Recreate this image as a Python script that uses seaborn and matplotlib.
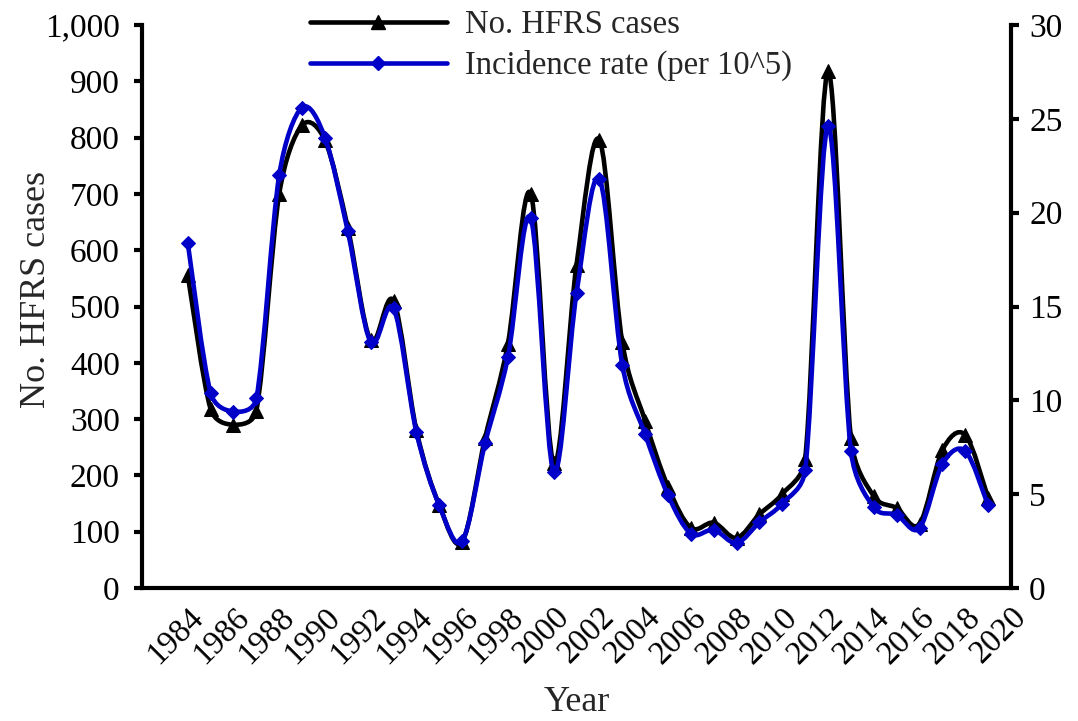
import numpy as np
import pandas as pd
import matplotlib
matplotlib.use("Agg")
import matplotlib.pyplot as plt
from matplotlib.path import Path
from matplotlib.patches import PathPatch
from matplotlib.lines import Line2D
from matplotlib.ticker import FuncFormatter
import matplotlib.transforms as mtransforms
import seaborn as sns

years = list(range(1984, 2020))
cases = [556, 318, 290, 315, 700, 822, 795, 640, 440, 510, 280, 147, 82, 266,
         434, 700, 222, 574, 796, 437, 297, 180, 107, 116, 89, 131, 167, 230,
         918, 266, 163, 142, 114, 245, 272, 160]
rate = [18.4, 10.4, 9.4, 10.1, 22.0, 25.6, 24.0, 19.0, 13.1, 14.9, 8.3, 4.4,
        2.5, 7.7, 12.3, 19.7, 6.2, 15.7, 21.8, 11.9, 8.2, 4.95, 2.9, 3.1, 2.4,
        3.5, 4.5, 6.3, 24.6, 7.3, 4.3, 3.9, 3.2, 6.6, 7.3, 4.4]
tick_years = list(range(1982, 2021, 2))
tick_labels = [""] + [str(y) for y in range(1984, 2021, 2)]
left_ticks = list(range(0, 1001, 100))
right_ticks = list(range(0, 31, 5))
label_cases = "No. HFRS cases"
label_rate = "Incidence rate (per 10^5)"

df = pd.DataFrame({"Year": years, "Cases": cases, "Rate": rate})

BLACK = "#000000"
BLUE = "#0000C8"
FONT = ["Liberation Serif", "DejaVu Serif"]

sns.set_theme(style="white")
plt.rcParams["font.family"] = FONT


def smooth_path(a, xs, ys):
    """Excel-like smoothed line: cubic Bezier, control arms = chord/6,
    capped at half the segment length (measured on screen)."""
    xs = np.asarray(xs, float)
    ys = np.asarray(ys, float)
    fig.canvas.draw()
    sx = a.transData.transform([(1, 0)])[0][0] - a.transData.transform([(0, 0)])[0][0]
    sy = a.transData.transform([(0, 1)])[0][1] - a.transData.transform([(0, 0)])[0][1]
    pts = np.column_stack([xs, ys])
    scale = np.array([sx, sy])
    n = len(pts)

    def plen(v):
        return float(np.hypot(*(v * scale)))

    verts = [tuple(pts[0])]
    codes = [Path.MOVETO]
    for i in range(n - 1):
        p0 = pts[max(i - 1, 0)]
        p1 = pts[i]
        p2 = pts[i + 1]
        p3 = pts[min(i + 2, n - 1)]
        half = plen(p2 - p1) / 2.0
        t1 = (p2 - p0) / 6.0
        t2 = (p3 - p1) / 6.0
        if plen(t1) > half and plen(t1) > 0:
            t1 = t1 * half / plen(t1)
        if plen(t2) > half and plen(t2) > 0:
            t2 = t2 * half / plen(t2)
        verts += [tuple(p1 + t1), tuple(p2 - t2), tuple(p2)]
        codes += [Path.CURVE4] * 3
    return Path(verts, codes)


fig = plt.figure(figsize=(10.78, 7.21), dpi=100)
ax = fig.add_axes([142 / 1078, 1 - 588 / 721, 869 / 1078, 563 / 721])
ax2 = ax.twinx()

ax.set_xlim(1982, 2020)
ax.set_ylim(0, 1000)
ax2.set_ylim(0, 30)

# black series (cases) on left axis
ax.add_patch(PathPatch(smooth_path(ax, df["Year"], df["Cases"]), fill=False,
                       edgecolor=BLACK, lw=3.3, zorder=2, capstyle="round",
                       joinstyle="round"))
sns.lineplot(data=df, x="Year", y="Cases", ax=ax, linewidth=0, marker="^",
             markersize=10.5, color=BLACK, markeredgecolor=BLACK, zorder=3)

# blue series (rate) on right axis
ax2.add_patch(PathPatch(smooth_path(ax2, df["Year"], df["Rate"]), fill=False,
                        edgecolor=BLUE, lw=3.3, zorder=2, capstyle="round",
                        joinstyle="round"))
sns.lineplot(data=df, x="Year", y="Rate", ax=ax2, linewidth=0, marker="D",
             markersize=7.5, color=BLUE, markeredgecolor=BLUE, zorder=3)

ax.set_xlim(1982, 2020)
ax.set_ylim(0, 1000)
ax2.set_ylim(0, 30)

ax.set_xticks(tick_years)
ax.set_xticklabels(tick_labels, rotation=45, ha="right",
                   rotation_mode="anchor", fontsize=23.5, family=FONT)
shift = mtransforms.ScaledTranslation(8 / 100, -1 / 100, fig.dpi_scale_trans)
for lab in ax.get_xticklabels():
    lab.set_transform(lab.get_transform() + shift)

ax.set_yticks(left_ticks)
ax.yaxis.set_major_formatter(FuncFormatter(lambda v, p: f"{v:,.0f}"))
ax2.set_yticks(right_ticks)

for lab in ax.get_yticklabels() + ax2.get_yticklabels():
    lab.set_fontsize(24)
    lab.set_family(FONT)

ax.tick_params(axis="y", which="major", direction="out", length=6,
               width=3, color=BLACK, labelcolor=BLACK, pad=10)
ax.tick_params(axis="x", which="major", direction="out", length=7,
               width=3, color=BLACK, labelcolor=BLACK, pad=3)
ax2.tick_params(axis="y", direction="out", length=6, width=3, color=BLACK,
                labelcolor=BLACK, pad=7)

for a in (ax, ax2):
    a.spines["top"].set_visible(False)
    for s in a.spines.values():
        s.set_linewidth(3)
        s.set_color(BLACK)
    a.grid(False)
    a.set_facecolor("none")
ax.spines["right"].set_visible(False)
ax2.spines["left"].set_visible(False)
ax2.spines["bottom"].set_visible(False)

ax.set_xlabel("Year", fontsize=26, family=FONT)
ax.xaxis.set_label_coords(0.5, (588 - 686) / 563)
ax.set_ylabel(label_cases, fontsize=26, family=FONT)
ax.yaxis.set_label_coords((53 - 142) / 869, (588 - 290) / 563)
ax2.set_ylabel("")

handles = [
    Line2D([], [], color=BLACK, lw=3.3, marker="^", markersize=10.5),
    Line2D([], [], color=BLUE, lw=3.3, marker="D", markersize=7.5),
]
fig.legend(handles, [label_cases, label_rate], loc="upper left",
           bbox_to_anchor=(0.272, 1.009), frameon=False, handlelength=4.2,
           handletextpad=0.55, labelspacing=0.3, borderpad=0.0,
           prop={"family": FONT, "size": 23.5})

fig.savefig("out.png", dpi=100, facecolor="white")
